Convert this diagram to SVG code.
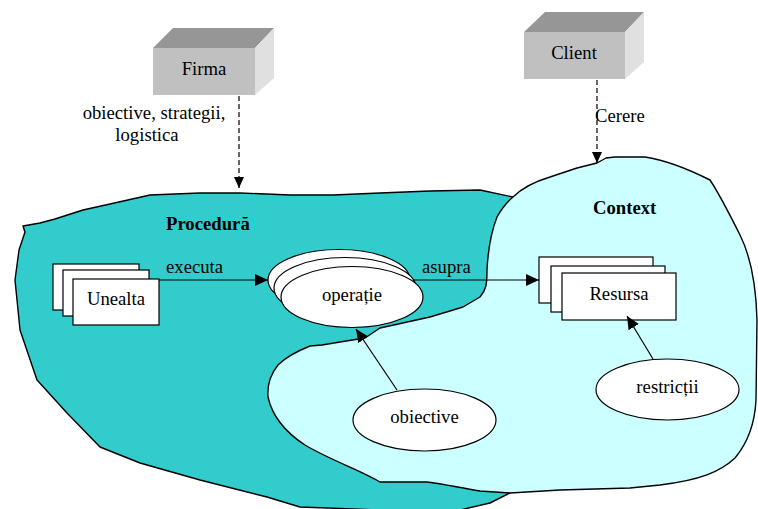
<svg xmlns="http://www.w3.org/2000/svg" width="758" height="509" viewBox="0 0 758 509">
<style>
text{font-family:"Liberation Serif","Times New Roman",serif;font-size:18.7px;fill:#000}
.b{font-weight:bold}
.m{text-anchor:middle}
.blob{stroke:#000;stroke-width:1.4;stroke-linejoin:round}
.box{fill:#fff;stroke:#000;stroke-width:1.2}
.ell{fill:#fff;stroke:#000;stroke-width:1.2}
.ln{stroke:#000;stroke-width:1.2;fill:none}
.dash{stroke:#000;stroke-width:1.2;fill:none;stroke-dasharray:5 3}
.front{fill:#c0c0c0}.top{fill:#969696}.side{fill:#e0e0e0}
</style>
<defs>
<marker id="ah" viewBox="0 0 13 12" refX="13" refY="6" markerWidth="13" markerHeight="12" markerUnits="userSpaceOnUse" orient="auto">
<path d="M0,0 L13,6 L0,12 Z" fill="#000"/>
</marker>
<marker id="ahs" viewBox="0 0 11 10" refX="11" refY="5" markerWidth="11" markerHeight="10" markerUnits="userSpaceOnUse" orient="auto">
<path d="M0,0 L11,5 L0,10 Z" fill="#000"/>
</marker>
</defs>

<g id="procedura">
<path class="blob" fill="#33CCCC" d="M23,226 L40,223 L55,219 L83,210 L110,204 L150,195 L200,193 L240,193 L290,195 L333,195 L380,193 L430,191 L480,190 L513,197 L530,210 L530,470 L510,493 L490,503 L460,510 L380,510 L300,507 L267,497 L200,480 L140,463 L100,447 L67,413 L37,380 L20,330 L15,280 L19,250 L25,232 Z"/>
<text class="b" x="166" y="230">Procedură</text>
</g>

<g id="context">
<path class="blob" fill="#CCFFFF" d="M513,197 C520,190 530,183 550,177 L577,168 L597,163 L606,158 L615,157 L645,157 C665,160 690,170 710,180 C720,195 730,215 740,235 C750,255 756,280 757,320 L756,400 C755,420 750,440 735,458 C720,472 700,480 660,485 L630,488 L560,490 L510,493 L480,491 C460,488 445,484 427,482 L380,482 C360,470 330,460 305,445 C285,432 272,415 268,397 C267,385 270,375 278,365 C285,358 295,352 310,346 L322,345 L340,342 L365,338 L380,328 L430,317 L463,307 L480,297 C486,290 487,285 487,270 C488,250 490,235 497,217 C502,208 507,202 513,197 Z"/>
<text class="b" x="593" y="214">Context</text>
</g>

<g id="firma">
<polygon class="front" points="153,48 255,48 255,95 153,95"/>
<polygon class="top" points="153,48 173,28 274,28 255,48"/>
<polygon class="side" points="255,48 274,28 274,78 255,95"/>
<text class="m" x="204" y="75">Firma</text>
</g>

<g id="client">
<polygon class="front" points="524,32 625,32 625,79 524,79"/>
<polygon class="top" points="524,32 545,12 644,12 625,32"/>
<polygon class="side" points="625,32 644,12 644,62 625,79"/>
<text class="m" x="574" y="59">Client</text>
</g>

<g id="unealta">
<rect class="box" x="53" y="264" width="86" height="46"/>
<rect class="box" x="63" y="270" width="86" height="46"/>
<rect class="box" x="73" y="279" width="86" height="46"/>
<text class="m" x="116" y="305">Unealta</text>
</g>

<g id="operatie">
<ellipse class="ell" cx="339" cy="280" rx="71" ry="30.5"/>
<ellipse class="ell" cx="345" cy="288" rx="71" ry="30.5"/>
<ellipse class="ell" cx="352" cy="297" rx="71" ry="30.5"/>
<text class="m" x="352" y="301">operație</text>
</g>

<g id="resursa">
<rect class="box" x="539" y="257" width="114" height="46"/>
<rect class="box" x="551" y="266" width="114" height="46"/>
<rect class="box" x="562" y="273" width="114" height="47"/>
<text class="m" x="619" y="300">Resursa</text>
</g>

<g id="obiective">
<ellipse class="ell" cx="424.5" cy="420" rx="71.5" ry="31"/>
<text class="m" x="424.5" y="423">obiective</text>
</g>

<g id="restrictii">
<ellipse class="ell" cx="667.5" cy="389.5" rx="71.5" ry="30.5"/>
<text class="m" x="667.5" y="393">restricții</text>
</g>

<g id="connectors">
<line class="dash" x1="239" y1="96" x2="239" y2="188" marker-end="url(#ahs)"/>
<line class="dash" x1="597" y1="80" x2="597" y2="163" marker-end="url(#ahs)"/>
<line class="ln" x1="159" y1="280" x2="268" y2="280" marker-end="url(#ah)"/>
<line class="ln" x1="413" y1="280" x2="539" y2="280" marker-end="url(#ah)"/>
<line class="ln" x1="397" y1="390" x2="356" y2="329" marker-end="url(#ah)"/>
<line class="ln" x1="653" y1="359" x2="627" y2="316" marker-end="url(#ah)"/>
<text class="m" x="154" y="119">obiective, strategii,</text>
<text class="m" x="147" y="141">logistica</text>
<text x="595" y="122">Cerere</text>
<text x="166" y="273">executa</text>
<text x="422" y="273">asupra</text>
</g>
</svg>
